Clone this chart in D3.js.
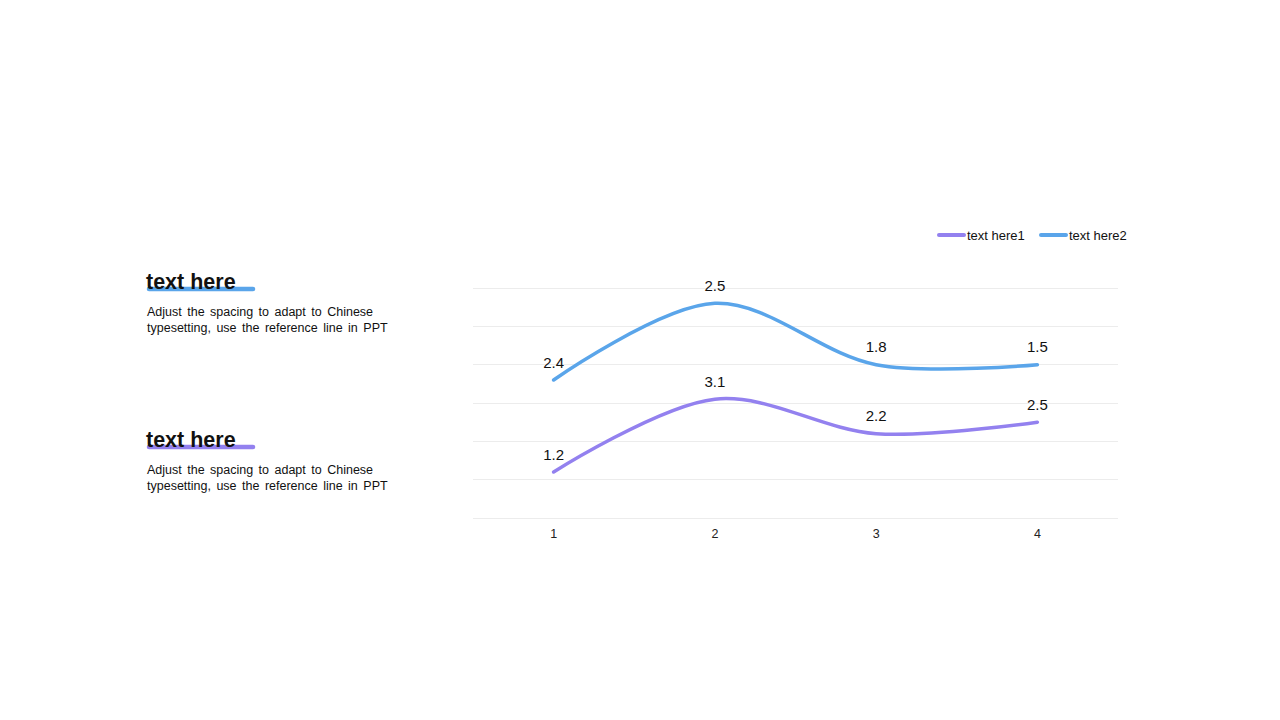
<!DOCTYPE html>
<html><head><meta charset="utf-8">
<script src="https://cdn.jsdelivr.net/npm/d3@7"></script>
<style>body{margin:0;background:#fff;}svg{display:block;font-family:"Liberation Sans",Arial,sans-serif;}</style>
</head><body>
<svg id="c" width="1280" height="720"></svg>
<script>
const categories = ["1","2","3","4"];
const series1 = [1.2, 3.1, 2.2, 2.5];
const series2 = [2.4, 2.5, 1.8, 1.5];
const seriesNames = ["text here1","text here2"];
const colors = ["#9381ef","#5aa5ea"];
const yTicks = [0,1,2,3,4,5,6];
const sideTitles = ["text here","text here"];
const sideDesc = ["Adjust the spacing to adapt to Chinese","typesetting, use the reference line in PPT"];

const svg = d3.select("#c");
const x = d3.scaleBand().domain(categories).range([473,1118]);
const y = d3.scaleLinear().domain([0,6]).range([518,288]);

// grid
svg.append("g").selectAll("line").data(yTicks).join("line")
  .attr("x1",473).attr("x2",1118).attr("y1",d=>y(d)).attr("y2",d=>y(d))
  .attr("stroke","#ececec").attr("stroke-width",1).attr("shape-rendering","crispEdges");

// x axis labels
svg.append("g").selectAll("text").data(categories).join("text")
  .attr("x",d=>x(d)+x.bandwidth()/2).attr("y",538).attr("text-anchor","middle")
  .attr("font-size",12.5).attr("fill","#222").text(d=>d);

const stacked1 = series1;
const stacked2 = series2.map((v,i)=>v+series1[i]);
const lineGen = d3.line().x((d,i)=>x(categories[i])+x.bandwidth()/2).y(d=>y(d)).curve(d3.curveCatmullRom.alpha(0.5));

[[stacked1,series1,0],[stacked2,series2,1]].forEach(([st,raw,k])=>{
  svg.append("path").datum(st).attr("d",lineGen).attr("fill","none")
    .attr("stroke",colors[k]).attr("stroke-width",3.5).attr("stroke-linecap","round");
  svg.append("g").selectAll("text").data(st).join("text")
    .attr("x",(d,i)=>x(categories[i])+x.bandwidth()/2).attr("y",d=>y(d)-12.5)
    .attr("text-anchor","middle").attr("font-size",15).attr("fill","#111")
    .text((d,i)=>raw[i]);
});

// legend
const lg = [{x:938},{x:1040}];
seriesNames.forEach((n,i)=>{
  svg.append("line").attr("x1",lg[i].x+1).attr("x2",lg[i].x+26).attr("y1",235).attr("y2",235)
    .attr("stroke",colors[i]).attr("stroke-width",4).attr("stroke-linecap","round");
  svg.append("text").attr("x",lg[i].x+29).attr("y",239.5).attr("font-size",13).attr("fill","#111").text(n);
});

// side text blocks
const blocks = [{y:283,c:colors[1]},{y:441,c:colors[0]}];
blocks.forEach((b,i)=>{
  svg.append("line").attr("x1",149).attr("x2",253).attr("y1",b.y+6).attr("y2",b.y+6)
    .attr("stroke",b.c).attr("stroke-width",4.5).attr("stroke-linecap","round");
  svg.append("text").attr("x",146).attr("y",b.y+6).attr("font-size",21.5).attr("font-weight","bold")
    .attr("fill","#111").text(sideTitles[i]);
  sideDesc.forEach((t,j)=>{
    svg.append("text").attr("x",147).attr("y",b.y+33+j*16).attr("font-size",12.5).attr("fill","#111")
      .attr("word-spacing",2).text(t);
  });
});
</script>
</body></html>
